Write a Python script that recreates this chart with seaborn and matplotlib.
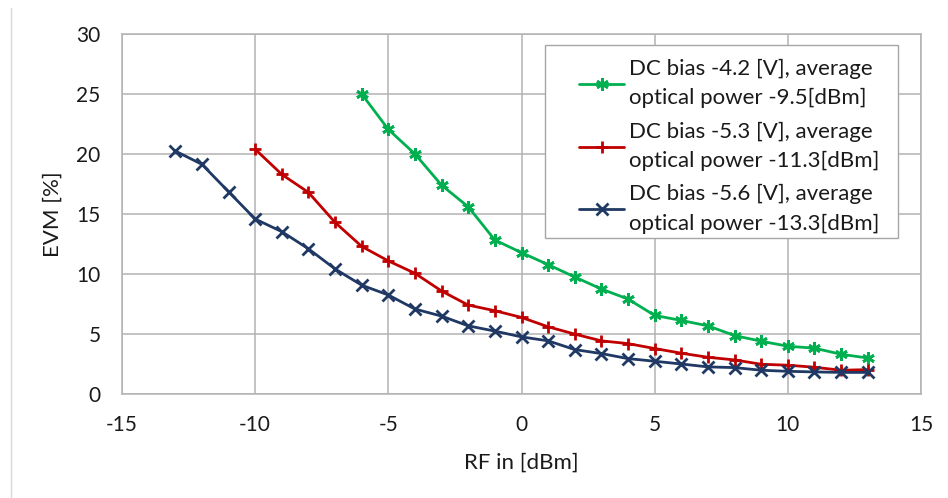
import matplotlib
matplotlib.use("Agg")
import matplotlib.pyplot as plt
from matplotlib.lines import Line2D
from matplotlib.patches import Rectangle
import seaborn as sns
import pandas as pd

# ---- data ----
x_green = list(range(-6, 14))
y_green = [25.0, 22.05, 20.0, 17.4, 15.6, 12.83, 11.78, 10.78, 9.75, 8.75, 7.91,
           6.55, 6.13, 5.68, 4.87, 4.4, 3.98, 3.82, 3.31, 3.0]
x_red = list(range(-10, 14))
y_red = [20.4, 18.3, 16.8, 14.3, 12.3, 11.09, 10.06, 8.58, 7.41, 6.94, 6.38, 5.6,
         4.99, 4.43, 4.2, 3.79, 3.4, 3.06, 2.84, 2.48, 2.4, 2.23, 1.98, 2.03]
x_blue = list(range(-13, 14))
y_blue = [20.25, 19.14, 16.86, 14.58, 13.53, 12.1, 10.42, 9.07, 8.25, 7.08, 6.49,
          5.68, 5.24, 4.76, 4.43, 3.7, 3.37, 2.95, 2.73, 2.5, 2.26, 2.2, 1.98, 1.89,
          1.84, 1.8, 1.8]
labels = ["DC bias -4.2 [V], average\noptical power -9.5[dBm]",
          "DC bias -5.3 [V], average\noptical power -11.3[dBm]",
          "DC bias -5.6 [V], average\noptical power -13.3[dBm]"]
x_ticks = [-15, -10, -5, 0, 5, 10, 15]
y_ticks = [0, 5, 10, 15, 20, 25, 30]

series = [
    (pd.DataFrame({"x": x_green, "y": y_green}), labels[0], "#00B050", (6, 2, 0)),
    (pd.DataFrame({"x": x_red, "y": y_red}), labels[1], "#C00000", "+"),
    (pd.DataFrame({"x": x_blue, "y": y_blue}), labels[2], "#1F3864", "x"),
]

sns.set_theme(style="white")
plt.rcParams["font.family"] = ["Lato", "DejaVu Sans"]

fig = plt.figure(figsize=(9.48, 4.98), dpi=100)
W, H = 948, 498
AX_L, AX_R, AX_T, AX_B = 122, 921, 34, 394
ax = fig.add_axes([AX_L / W, 1 - AX_B / H, (AX_R - AX_L) / W, (AX_B - AX_T) / H])


def ax_x(px):
    return (px - AX_L) / (AX_R - AX_L)


def ax_y(py):
    return (AX_B - py) / (AX_B - AX_T)


for d, lab, col, mk in series:
    sns.lineplot(data=d, x="x", y="y", color=col, marker=mk, markersize=9,
                 markeredgewidth=2, markeredgecolor=col, linewidth=2, label=lab,
                 ax=ax)

ax.set_xlim(-15, 15)
ax.set_ylim(0, 30)
ax.set_xticks(x_ticks)
ax.set_yticks(y_ticks)
ax.set_xticklabels([str(v) for v in x_ticks])
ax.set_yticklabels([str(v) for v in y_ticks])
ax.grid(True, color="#B3B3B3", linewidth=1.1)
ax.set_axisbelow(True)
for s in ax.spines.values():
    s.set_color("#B3B3B3")
    s.set_linewidth(1.1)
ax.tick_params(axis="x", length=0, labelsize=15, colors="#1a1a1a", pad=15)
ax.tick_params(axis="y", length=0, labelsize=15, colors="#1a1a1a", pad=15.5)
ax.set_xlabel("RF in [dBm]", fontsize=16, color="#1a1a1a", labelpad=13)
ax.set_ylabel("EVM [%]", fontsize=16, color="#1a1a1a", labelpad=10)

# legend frame drawn as a separate box
frame = Rectangle((ax_x(545), ax_y(238)), ax_x(898) - ax_x(545), ax_y(45) - ax_y(238),
                  transform=ax.transAxes, facecolor="white", edgecolor="#A6A6A6",
                  linewidth=1.0, zorder=4.5)
ax.add_patch(frame)

LEG_FS = 16
leg = ax.legend(loc="upper left", bbox_to_anchor=(ax_x(579), ax_y(59)),
                frameon=False, fontsize=LEG_FS, handlelength=2.03,
                handletextpad=0.2, labelspacing=0.6, borderpad=0,
                borderaxespad=0)
leg.set_zorder(6)
for t in leg.get_texts():
    t.set_color("#1a1a1a")
    t.set_linespacing(1.56)

fig.add_artist(Line2D([11 / W, 11 / W], [0, 1 - 8 / H], transform=fig.transFigure,
                      color="#D9D9D9", linewidth=1))

fig.savefig("out.png", dpi=100)
